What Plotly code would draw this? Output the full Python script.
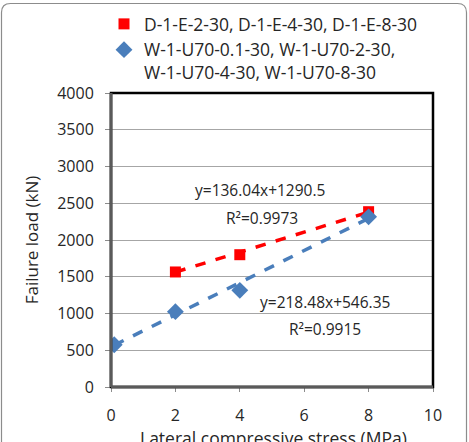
import plotly.graph_objects as go

# ---- data ----
red_name = "D-1-E-2-30, D-1-E-4-30, D-1-E-8-30"
red_x = [2, 4, 8]
red_y = [1565, 1800, 2385]
blue_name = "W-1-U70-0.1-30, W-1-U70-2-30,<br>W-1-U70-4-30, W-1-U70-8-30"
blue_x = [0.1, 2, 4, 8]
blue_y = [575, 1025, 1315, 2315]
red_fit = (136.04, 1290.5)
blue_fit = (218.48, 546.35)
red_eq = ["y=136.04x+1290.5", "R²=0.9973"]
blue_eq = ["y=218.48x+546.35", "R²=0.9915"]
x_ticks = [0, 2, 4, 6, 8, 10]
y_ticks = [0, 500, 1000, 1500, 2000, 2500, 3000, 3500, 4000]
x_title = "Lateral compressive stress (MPa)"
y_title = "Failure load (kN)"

RED = "#ff0000"
BLUE = "#4a7ebb"
FONT = "Open Sans"
TXT = "#262626"

W, H = 469, 442
ML, MR, MT, MB = 111, 36, 93, 55
PW, PH = W - ML - MR, H - MT - MB

fig = go.Figure()

def fit_line(xs, coef):
    x0, x1 = min(xs), max(xs)
    return [x0, x1], [coef[0] * x0 + coef[1], coef[0] * x1 + coef[1]]

lx, ly = fit_line(red_x, red_fit)
fig.add_trace(go.Scatter(x=lx, y=ly, mode="lines", showlegend=False,
                         line=dict(color=RED, width=3.5, dash="dash")))
lx, ly = fit_line(blue_x, blue_fit)
fig.add_trace(go.Scatter(x=lx, y=ly, mode="lines", showlegend=False,
                         line=dict(color=BLUE, width=3.5, dash="dash")))

fig.add_trace(go.Scatter(x=red_x, y=red_y, mode="markers", name=red_name,
                         marker=dict(symbol="square", size=11, color=RED)))
fig.add_trace(go.Scatter(x=blue_x, y=blue_y, mode="markers", name=blue_name,
                         marker=dict(symbol="diamond", size=13, color=BLUE)))

def px2paper(px, py):
    return (px - ML) / PW, (H - MB - py) / PH

def P(px, py):
    a, b = px2paper(px, py)
    return f"{a:.5f},{b:.5f}"

# rounded outer border
x0p, y0p, x1p, y1p, r = 1.5, 3.5, 466.5, 446, 9
path = (f"M {P(x0p, y1p)} L {P(x0p, y0p + r)} Q {P(x0p, y0p)} {P(x0p + r, y0p)} "
        f"L {P(x1p - r, y0p)} Q {P(x1p, y0p)} {P(x1p, y0p + r)} L {P(x1p, y1p)}")
shapes = [
    dict(type="path", xref="paper", yref="paper", path=path,
         line=dict(color="#8c8c8c", width=1.2)),
    dict(type="rect", xref="paper", yref="paper", x0=0, y0=0, x1=1, y1=1,
         line=dict(color="black", width=2.5), layer="above"),
    dict(type="line", xref="paper", yref="paper", x0=0, y0=0, x1=0, y1=1,
         line=dict(color="#5a5a5a", width=3), layer="above"),
    dict(type="line", xref="paper", yref="paper", x0=0, y0=0, x1=1, y1=0,
         line=dict(color="#5a5a5a", width=3), layer="above"),
]

ann = []
for txt, (ax, ay) in zip(red_eq + blue_eq, [(4.63, 2680), (4.69, 2300), (6.65, 1156), (6.65, 789)]):
    ann.append(dict(x=ax, y=ay, xref="x", yref="y", text=txt, showarrow=False,
                    font=dict(family=FONT, size=15.5, color=TXT)))
tx, ty = px2paper(273, 438)
ann.append(dict(x=tx, y=ty, xref="paper", yref="paper", text=x_title, showarrow=False,
                xanchor="center", yanchor="middle",
                font=dict(family=FONT, size=17.5, color=TXT)))

lx0, ly0 = px2paper(104, 6)

fig.update_layout(
    width=W, height=H, margin=dict(l=ML, r=MR, t=MT, b=MB, autoexpand=False),
    paper_bgcolor="white", plot_bgcolor="white",
    font=dict(family=FONT, size=16, color=TXT),
    shapes=shapes, annotations=ann,
    legend=dict(x=lx0, y=ly0, xanchor="left", yanchor="top", valign="top",
                font=dict(family=FONT, size=17.5, color=TXT),
                bgcolor="rgba(0,0,0,0)", tracegroupgap=1, itemwidth=30),
    xaxis=dict(range=[0, 10], tickvals=x_ticks, showgrid=False, zeroline=False,
               ticks="outside", ticklen=4, tickcolor="#8c8c8c", ticklabelstandoff=10,
               tickfont=dict(size=16)),
    yaxis=dict(range=[0, 4000], tickvals=y_ticks, showgrid=True, gridcolor="#a6a6a6",
               gridwidth=1, zeroline=False, ticks="outside", ticklen=5, tickcolor="#8c8c8c",
               ticklabelstandoff=8,
               tickfont=dict(size=16), title=dict(text=y_title,
               standoff=14, font=dict(size=17))),
)

fig.write_html("out.html")
